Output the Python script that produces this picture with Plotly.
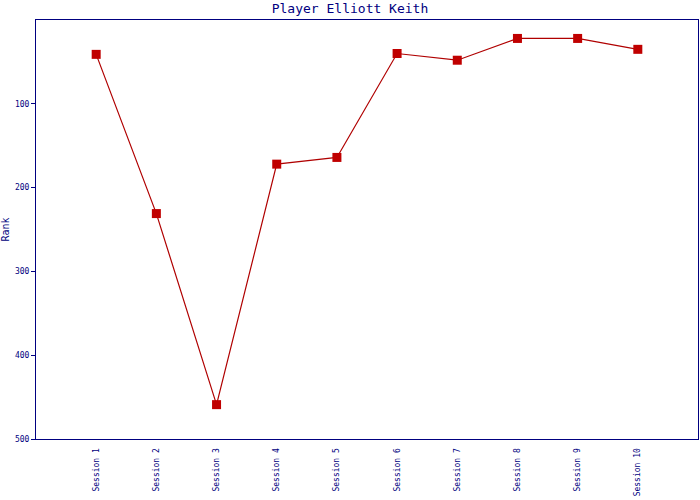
import plotly.graph_objects as go

sessions = ["Session 1", "Session 2", "Session 3", "Session 4", "Session 5",
            "Session 6", "Session 7", "Session 8", "Session 9", "Session 10"]
ranks = [41, 231, 459, 172, 164, 40, 48, 22, 22, 35]
y_ticks = [100, 200, 300, 400, 500]

blue = "#000080"
font = "DejaVu Sans Mono"

fig = go.Figure(go.Scatter(
    x=sessions, y=ranks, mode="lines+markers",
    line=dict(color="#B00000", width=1.2),
    marker=dict(symbol="square", size=9, color="#C00000"),
))

fig.update_layout(
    width=700, height=500,
    margin=dict(l=36, r=2, t=20, b=61, pad=0, autoexpand=False),
    paper_bgcolor="white", plot_bgcolor="white",
    showlegend=False,
    title=dict(text="Player Elliott Keith", x=0.5, xanchor="center", y=0.983, yanchor="middle",
               font=dict(family=font, size=13, color=blue)),
    font=dict(family=font, color=blue),
)
fig.update_xaxes(
    range=[-1, 10], showgrid=False, zeroline=False, automargin=False,
    showline=True, linecolor=blue, linewidth=1, mirror=True,
    ticks="outside", ticklen=5, tickcolor="rgba(0,0,0,0)",
    tickangle=-90, tickfont=dict(family=font, size=8, color=blue),
)
fig.update_yaxes(
    range=[500, 0], showgrid=False, zeroline=False, automargin=False,
    showline=True, linecolor=blue, linewidth=1, mirror=True,
    ticks="outside", ticklen=4, tickcolor=blue,
    tickvals=y_ticks, tickfont=dict(family=font, size=8, color=blue),
    title=dict(text="Rank", font=dict(family=font, size=10, color=blue), standoff=4),
)

fig.write_html(
    "out.html",
    config={"displayModeBar": False},
    post_script="document.body.style.margin='0';document.body.style.overflow='hidden';",
)
